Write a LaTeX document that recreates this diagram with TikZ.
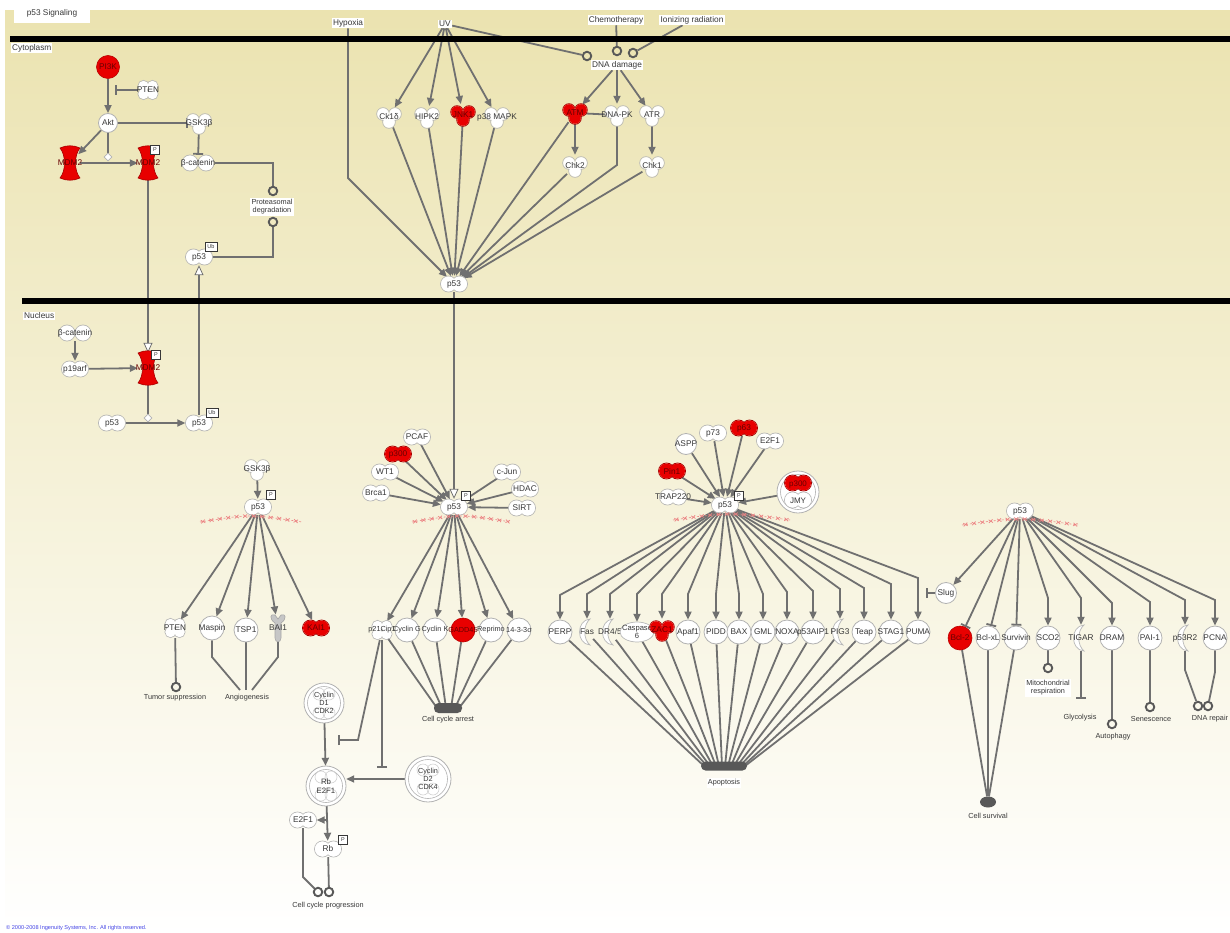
\documentclass[tikz,border=0pt]{standalone}
\usepackage{fontspec}
\setmainfont{Liberation Sans}
\setsansfont{Liberation Sans}
\usetikzlibrary{arrows.meta,shapes.geometric,decorations.markings,calc}

\definecolor{edgec}{RGB}{112,112,112}
\definecolor{blobc}{RGB}{88,88,88}
\definecolor{molred}{RGB}{232,0,0}
\definecolor{outl}{RGB}{178,178,178}
\definecolor{txt}{RGB}{55,55,55}
\definecolor{tantop}{RGB}{235,227,176}
\definecolor{tanmid}{RGB}{245,241,212}
\definecolor{xred}{RGB}{236,130,130}
\definecolor{copyc}{RGB}{70,70,230}

\pgfdeclarelayer{bglayer}
\pgfdeclarelayer{edgelayer}
\pgfsetlayers{bglayer,edgelayer,main}

% text that does not widen its node
\newcommand\zwtext[1]{\makebox[0pt]{#1}}
% molecule: shape kind, colour, node name, position, label
\newcommand\molec[5]{%
  \pic at (#4) {#1=#2};
  \node[#1 node,#2 text] (#3) at (#4) {\zwtext{#5}};}

\tikzset{
  lbl/.style={font=\fontsize{8.3}{9.3}\selectfont, text=txt, inner sep=0pt, align=center},
  tiny/.style={font=\fontsize{7.3}{8.2}\selectfont},
  proc/.style={lbl, fill=white, inner sep=1.2pt},
  white text/.style={},
  molred text/.style={text=molred!45!black},
  bowtie node/.style={lbl, ellipse, minimum width=27pt, minimum height=16pt},
  bowtiew node/.style={lbl, ellipse, minimum width=33pt, minimum height=16pt},
  trimer node/.style={lbl, circle, minimum size=22pt},
  quad node/.style={lbl, circle, minimum size=20pt},
  enzyme node/.style={lbl, ellipse, minimum width=20pt, minimum height=30pt},
  recep node/.style={lbl, ellipse, minimum width=14pt, minimum height=26pt},
  pept node/.style={lbl, ellipse, minimum width=34pt, minimum height=20pt},
  gpcr node/.style={lbl, ellipse, minimum width=14pt, minimum height=28pt},
  ocirc/.style={lbl, circle, draw=outl, fill=white, line width=0.8pt, minimum size=24pt},
  rcirc/.style={lbl, circle, draw=molred!80!black, fill=molred, line width=0.6pt,
                minimum size=24pt, text=molred!45!black},
  cplx/.style={lbl, tiny, circle, minimum size=40pt},
  pbox/.style={draw=txt, fill=white, line width=0.6pt, inner sep=0pt,
               minimum width=9pt, minimum height=9pt, font=\fontsize{5.5}{6}\selectfont, text=txt},
  ubox/.style={pbox, minimum width=12pt},
  phos/.style={diamond, draw=outl, fill=white, line width=0.7pt, inner sep=0pt, minimum size=8pt},
  endc/.style={circle, draw=blobc, line width=1.9pt, inner sep=0pt, minimum size=8.5pt},
  blob/.style={rectangle, rounded corners=4.5pt, fill=blobc, inner sep=0pt, minimum height=10pt},
  ln/.style={draw=edgec, line width=1.8pt},
  act/.style={ln, -{Triangle[length=8pt,width=7pt]}},
  inh/.style={ln, -{Bar[width=10pt]}},
  opent/.style={ln, -{Triangle[length=10pt,width=9pt,fill=white,line width=0.8pt]}},
  membrane/.style={draw=black, line width=5.5pt},
  xline/.style={draw=xred, line width=0.6pt, dash pattern=on 2pt off 2pt,
    postaction={decorate, decoration={markings,
      mark=between positions 0.03 and 1 step 8.5pt with
        {\draw[xred, line width=0.7pt, solid] (-2,-1.6) -- (2,1.6) (-2,1.6) -- (2,-1.6);}}}},
  % molecule outlines
  pics/bowtie/.style={code={
    \path[draw=#1!72!black, line width=0.8pt] (-5.5,0) circle[radius=8] (5.5,0) circle[radius=8];
    \path[fill=#1] (-5.5,0) circle[radius=7.5] (5.5,0) circle[radius=7.5];}},
  pics/bowtiew/.style={code={
    \path[draw=#1!72!black, line width=0.8pt] (-8,0) circle[radius=8] (8,0) circle[radius=8];
    \path[fill=#1] (-8,0) circle[radius=7.5] (8,0) circle[radius=7.5];}},
  pics/trimer/.style={code={
    \path[draw=#1!72!black, line width=0.8pt] (-6,-3) circle[radius=6.3] (6,-3) circle[radius=6.3] (0,5) circle[radius=6.3];
    \path[fill=#1] (-6,-3) circle[radius=5.8] (6,-3) circle[radius=5.8] (0,5) circle[radius=5.8];}},
  pics/quad/.style={code={
    \path[draw=#1!72!black, line width=0.8pt] (-4.5,-4) circle[radius=5.6] (4.5,-4) circle[radius=5.6]
      (-4.5,4) circle[radius=5.6] (4.5,4) circle[radius=5.6];
    \path[fill=#1] (-4.5,-4) circle[radius=5.1] (4.5,-4) circle[radius=5.1]
      (-4.5,4) circle[radius=5.1] (4.5,4) circle[radius=5.1];}},
  pics/enzyme/.style={code={
    \path[draw=#1!72!black, fill=#1, line width=0.6pt]
      (-10,-15) .. controls (-4,-8) and (-4,8) .. (-10,15)
      .. controls (-4,18) and (4,18) .. (10,15)
      .. controls (4,8) and (4,-8) .. (10,-15)
      .. controls (4,-18) and (-4,-18) .. (-10,-15) -- cycle;}},
  pics/recep/.style={code={
    \path[draw=#1!72!black, fill=#1, line width=0.7pt]
      (3,-13) .. controls (-11,-12) and (-11,12) .. (3,13)
      .. controls (-4,7) and (-4,-7) .. (3,-13) -- cycle;}},
  pics/pept/.style={code={
    \path[draw=#1!72!black, fill=#1, line width=0.7pt] (0,0) ellipse[x radius=17, y radius=10];}},
  pics/gpcr/.style={code={
    \path[draw=gray!70, fill=gray!45, line width=0.6pt]
      (-3,-5) .. controls (-9,-9) and (-8,-15) .. (-3,-13) -- (0,-9) -- (3,-13)
      .. controls (8,-15) and (9,-9) .. (3,-5) -- (3,10) .. controls (3,15) and (-3,15) .. (-3,10) -- cycle;}},
  pics/cplx/.style={code={
    \path[draw=outl, fill=white, line width=0.8pt] (0,0) circle[radius=#1];
    \path[draw=outl, line width=0.6pt] (0,0) circle[radius=#1-3.5];}},
  pics/ghost/.style={code={
    \path[draw=gray!35, line width=0.6pt] (-5,0) circle[radius=6] (5,0) circle[radius=6];}},
}

\begin{document}
\begin{tikzpicture}[x=1pt,y=-1pt]
\useasboundingbox (0,0) rectangle (1230,933);

% ---------- background ----------
\begin{pgfonlayer}{bglayer}
  \fill[white] (0,0) rectangle (1230,933);
  \shade[top color=tantop, middle color=tanmid, bottom color=white] (5,11) rectangle (1230,933);
\end{pgfonlayer}

% ---------- membranes and compartment names ----------
\draw[membrane] (10,39) -- (1230,39);
\draw[membrane] (22,301) -- (1230,301);
\node[lbl, fill=white, minimum width=76pt, minimum height=20pt] (title) at (52,13) {p53 Signaling};
\node[lbl, fill=white, inner sep=1pt, anchor=west] (cytol) at (11,48) {Cytoplasm};
\node[lbl, fill=white, inner sep=1pt, anchor=west] (nucl) at (23,316) {Nucleus};

% ---------- stress signals ----------
\node[proc] (hyp) at (348,23) {Hypoxia};
\node[proc] (uv) at (445,24) {UV};
\node[proc] (chemo) at (616,20) {Chemotherapy};
\node[proc] (ionr) at (692,20) {Ionizing radiation};
\node[proc] (dnad) at (617,65) {DNA damage};

\molec{trimer}{white}{ck1d}{389,117}{Ck1δ}
\molec{trimer}{white}{hipk2}{427,117}{HIPK2}
\molec{trimer}{molred}{jnk1}{463,115}{JNK1}
\molec{trimer}{white}{p38}{497,117}{p38 MAPK}
\molec{trimer}{molred}{atm}{575,113}{ATM}
\molec{trimer}{white}{dnapk}{617,115}{DNA-PK}
\molec{trimer}{white}{atr}{652,115}{ATR}
\molec{trimer}{white}{chk2}{575,166}{Chk2}
\molec{trimer}{white}{chk1}{652,166}{Chk1}
\molec{bowtie}{white}{p53t}{454,284}{p53}

\node[endc] (dd1) at (587,56) {};
\node[endc] (dd2) at (617,51) {};
\node[endc] (dd3) at (633,53) {};

% ---------- PI3K / Akt / MDM2 (cytoplasm) ----------
\node[rcirc, minimum size=23pt] (pi3k) at (108,67) {\zwtext{PI3K}};
\molec{quad}{white}{ptenc}{148,90}{PTEN}
\node[ocirc, minimum size=19pt] (akt) at (108,123) {\zwtext{Akt}};
\molec{trimer}{white}{gsk3c}{199,123}{GSK3β}
\molec{enzyme}{molred}{mdm2a}{70,163}{MDM2}
\molec{enzyme}{molred}{mdm2b}{148,163}{MDM2}
\node[pbox] (mdm2b-p) at (155,150) {P};
\molec{bowtiew}{white}{bcatc}{198,163}{β-catenin}
\node[phos] (dia1) at (108,157) {};
\node[endc] (pd1) at (273,191) {};
\node[endc] (pd2) at (273,222) {};
\node[proc, tiny] (pdlab) at (272,207) {Proteasomal\\degradation};
\molec{bowtie}{white}{p53u1}{199,257}{p53}
\node[ubox] (p53u1-ub) at (211,247) {Ub};
\coordinate (ptenbar) at (115,90);

% ---------- nucleus: MDM2 loop ----------
\molec{bowtiew}{white}{bcatn}{75,333}{β-catenin}
\molec{bowtie}{white}{p19}{75,369}{p19arf}
\molec{enzyme}{molred}{mdm2n}{148,368}{MDM2}
\node[pbox] (mdm2n-p) at (156,355) {P};
\node[phos] (dia2) at (148,418) {};
\molec{bowtie}{white}{p53n}{112,423}{p53}
\molec{bowtie}{white}{p53u2}{199,423}{p53}
\node[ubox] (p53u2-ub) at (212,413) {Ub};

% ---------- p53: tumour suppression / angiogenesis ----------
\molec{trimer}{white}{gsk3n}{257,469}{GSK3β}
\molec{bowtie}{white}{p53g}{258,507}{p53}
\node[pbox] (p53g-p) at (271,495) {P};
\molec{quad}{white}{ptenn}{175,628}{PTEN}
\node[ocirc] (maspin) at (212,628) {\zwtext{Maspin}};
\node[ocirc] (tsp1) at (246,630) {\zwtext{TSP1}};
\molec{gpcr}{white}{bai1}{278,628}{BAI1}
\molec{bowtie}{molred}{kai1}{316,628}{KAI1}
\node[endc] (tsc) at (176,687) {};
\node[lbl, tiny] (tsl) at (175,698) {Tumor suppression};
\coordinate (ang) at (246,690);
\node[lbl, tiny] (angl) at (247,698) {Angiogenesis};

% ---------- p53: cell cycle arrest ----------
\molec{bowtie}{white}{p53c}{454,507}{p53}
\node[pbox] (p53c-p) at (466,496) {P};
\molec{bowtie}{white}{pcaf}{417,437}{PCAF}
\molec{bowtie}{molred}{p300a}{398,454}{p300}
\molec{bowtie}{white}{wt1}{385,472}{WT1}
\molec{bowtie}{white}{brca1}{376,493}{Brca1}
\molec{bowtie}{white}{cjun}{507,472}{c-Jun}
\molec{bowtie}{white}{hdac}{525,489}{HDAC}
\molec{bowtie}{white}{sirt}{522,508}{SIRT}

\pic at (382,630) {quad=white};
\node[quad node, tiny] (p21) at (382,630) {\zwtext{p21Cip1}};
\node[ocirc, tiny] (cycg) at (407,630) {\zwtext{Cyclin G}};
\node[ocirc, tiny] (cyck) at (435,630) {\zwtext{Cyclin K}};
\node[rcirc, tiny] (gadd) at (463,630) {\zwtext{GADD45}};
\node[ocirc, tiny] (repr) at (491,630) {\zwtext{Reprimo}};
\node[ocirc, tiny] (sfn) at (519,630) {\zwtext{14-3-3σ}};
\node[blob, minimum width=28pt] (cca) at (448,708) {};
\node[lbl, tiny] (ccal) at (448,720) {Cell cycle arrest};

% ---------- Rb / E2F1 ----------
\pic at (324,703) {cplx=20};
\pic at (324,694) {ghost}; \pic at (324,713) {ghost};
\node[cplx] (cd1) at (324,703) {Cyclin\\D1\\CDK2};
\pic at (326,786) {cplx=20};
\pic at (326,777) {ghost}; \pic at (326,795) {ghost};
\node[cplx, font=\fontsize{7.8}{9.5}\selectfont] (rbe) at (326,786) {Rb\\E2F1};
\pic at (428,779) {cplx=23};
\pic at (428,770) {ghost}; \pic at (428,789) {ghost};
\node[cplx, minimum size=46pt] (cd2) at (428,779) {Cyclin\\D2\\CDK4};
\coordinate (inhA) at (338,740);
\coordinate (inhB) at (382,768);
\molec{bowtie}{white}{e2f1b}{303,820}{E2F1}
\molec{bowtie}{white}{rb2}{328,849}{Rb}
\node[pbox] (rb2-p) at (343,840) {P};
\coordinate (split) at (rbe.south |- e2f1b);
\node[endc] (ccp1) at (318,892) {};
\node[endc] (ccp2) at (329,892) {};
\node[lbl, tiny] (ccpl) at (328,906) {Cell cycle progression};

% ---------- p53: apoptosis ----------
\molec{bowtie}{white}{p53a}{725,505}{p53}
\node[pbox] (p53a-p) at (739,496) {P};
\node[ocirc, minimum size=21pt] (aspp) at (686,444) {\zwtext{ASPP}};
\molec{bowtie}{white}{p73}{713,433}{p73}
\molec{bowtie}{molred}{p63}{744,428}{p63}
\molec{bowtie}{white}{e2f1a}{770,441}{E2F1}
\molec{bowtie}{molred}{pin1}{672,471}{Pin1}
\molec{bowtie}{white}{trap}{673,497}{TRAP220}
\pic at (798,492) {cplx=21};
\pic at (798,483) {bowtie=molred};
\pic at (798,500) {bowtie=white};
\node[lbl, circle, minimum size=42pt, align=center, font=\fontsize{8}{17}\selectfont] (jmy)
  at (798,492) {\textcolor{molred!45!black}{p300}\\JMY};

\node[ocirc] (perp) at (560,632) {\zwtext{PERP}};
\molec{recep}{white}{fas}{587,632}{Fas}
\molec{recep}{white}{dr45}{610,632}{DR4/5}
\pic at (637,632) {pept=white};
\node[pept node, font=\fontsize{7.6}{8}\selectfont] (casp6) at (637,632) {\zwtext{Caspase}\\6};
\molec{trimer}{molred}{zac1}{662,630}{ZAC1}
\node[ocirc] (apaf1) at (688,632) {\zwtext{Apaf1}};
\node[ocirc] (pidd) at (716,632) {\zwtext{PIDD}};
\node[ocirc] (bax) at (739,632) {\zwtext{BAX}};
\node[ocirc] (gml) at (763,632) {\zwtext{GML}};
\node[ocirc] (noxa) at (787,632) {\zwtext{NOXA}};
\node[ocirc] (aip1) at (813,632) {\zwtext{p53AIP1}};
\molec{recep}{white}{pig3}{840,632}{PIG3}
\node[ocirc] (teap) at (864,632) {\zwtext{Teap}};
\node[ocirc] (stag1) at (891,632) {\zwtext{STAG1}};
\node[ocirc] (puma) at (918,632) {\zwtext{PUMA}};
\node[blob, minimum width=46pt, minimum height=9pt] (apo) at (724,766) {};
\node[proc, tiny] (apol) at (724,783) {Apoptosis};

% ---------- p53: survival, metabolism, repair ----------
\molec{bowtie}{white}{p53r}{1020,511}{p53}
\node[ocirc, minimum size=21pt] (slug) at (946,593) {\zwtext{Slug}};
\coordinate (slugbar) at (926,593);
\node[rcirc] (bcl2) at (960,638) {\zwtext{Bcl-2}};
\node[ocirc] (bclxl) at (988,638) {\zwtext{Bcl-xL}};
\node[ocirc] (surv) at (1016,638) {\zwtext{Survivin}};
\node[ocirc] (sco2) at (1048,638) {\zwtext{SCO2}};
\molec{recep}{white}{tigar}{1081,638}{TIGAR}
\node[ocirc] (dram) at (1112,638) {\zwtext{DRAM}};
\node[ocirc] (pai1) at (1150,638) {\zwtext{PAI-1}};
\molec{recep}{white}{p53r2}{1185,638}{p53R2}
\node[ocirc] (pcna) at (1215,638) {\zwtext{PCNA}};

\node[endc] (mitc) at (1048,668) {};
\node[proc, tiny] (mitl) at (1048,688) {Mitochondrial\\respiration};
\coordinate (glyc) at (1081,699);
\node[lbl, tiny] (glycl) at (1080,718) {Glycolysis};
\node[endc] (autc) at (1112,724) {};
\node[lbl, tiny] (autl) at (1113,737) {Autophagy};
\node[endc] (senc) at (1150,707) {};
\node[lbl, tiny] (senl) at (1151,719) {Senescence};
\node[endc] (dnr1) at (1198,706) {};
\node[endc] (dnr2) at (1208,706) {};
\node[lbl, tiny] (dnrl) at (1210,719) {DNA repair};
\node[ellipse, fill=blobc, inner sep=0pt, minimum width=16pt, minimum height=11pt] (csv) at (988,802) {};
\node[lbl, tiny] (csvl) at (988,816) {Cell survival};

% ---------- footer ----------
\node[anchor=west, inner sep=0pt, text=copyc, font=\fontsize{5.6}{6}\selectfont] (copy) at (6,928)
  {© 2000-2008 Ingenuity Systems, Inc. All rights reserved.};

% ---------- p53 damage-sensing marks ----------
\draw[xline] (200,522) .. controls (250,514) .. (302,522);
\draw[xline] (412,522) .. controls (460,514) .. (511,522);
\draw[xline] (673,520) .. controls (730,512) .. (790,520);
\draw[xline] (962,525) .. controls (1020,517) .. (1078,525);

% ================= connectors =================
\begin{pgfonlayer}{edgelayer}
  % stress signals to p53
  \draw[act] (hyp) -- (348,178) -- (p53t);
  \foreach \k in {ck1d,hipk2,jnk1,p38} \draw[act] (uv) -- (\k);
  \draw[ln] (uv) -- (dd1);
  \draw[ln] (chemo) -- (dd2);
  \draw[ln] (ionr) -- (dd3);
  \foreach \k in {atm,dnapk,atr} \draw[act] (dnad) -- (\k);
  \draw[ln] (atm) -- (dnapk);
  \draw[act] (atm) -- (chk2);
  \draw[act] (atr) -- (chk1);
  \foreach \k in {ck1d,hipk2,jnk1,p38,atm,chk2,chk1} \draw[act] (\k) -- (p53t);
  \draw[act] (dnapk) -- (617,165) -- (p53t);
  \draw[opent] (p53t) -- (p53c);

  % PI3K / Akt / MDM2
  \draw[act] (pi3k) -- (akt);
  \draw[inh] (ptenc) -- (ptenbar);
  \draw[inh] (akt) -- (gsk3c);
  \draw[inh] (gsk3c) -- (bcatc);
  \draw[act] (akt) -- (mdm2a);
  \draw[ln] (akt) -- (dia1);
  \draw[act] (mdm2a) -- (mdm2b);
  \draw[opent] (mdm2b) -- (mdm2n);
  \draw[ln] (bcatc) -| (pd1);
  \draw[ln] (p53u1) -| (pd2);
  \draw[opent] (p53u2) -- (p53u1);
  \draw[act] (bcatn) -- (p19);
  \draw[act] (p19) -- (mdm2n);
  \draw[ln] (mdm2n) -- (dia2);
  \draw[act] (p53n) -- (p53u2);

  % tumour suppression / angiogenesis
  \draw[act] (gsk3n) -- (p53g);
  \foreach \k in {ptenn,maspin,tsp1,bai1,kai1} \draw[act] (p53g) -- (\k);
  \draw[ln] (ptenn) -- (tsc);
  \draw[ln] (maspin) -- (212,657) -- ([xshift=-6pt]ang);
  \draw[ln] (tsp1) -- (ang);
  \draw[ln] (bai1) -- (278,657) -- ([xshift=6pt]ang);

  % cell cycle arrest
  \foreach \k in {pcaf,p300a,wt1,brca1,cjun,hdac,sirt} \draw[act] (\k) -- (p53c);
  \foreach \k in {p21,cycg,cyck,gadd,repr,sfn} \draw[act] (p53c) -- (\k);
  \draw[ln] (p21) -- ([xshift=-11pt]cca.center);
  \draw[ln] (cycg) -- ([xshift=-6pt]cca.center);
  \draw[ln] (cyck) -- ([xshift=-2pt]cca.center);
  \draw[ln] (gadd) -- ([xshift=3pt]cca.center);
  \draw[ln] (repr) -- ([xshift=7pt]cca.center);
  \draw[ln] (sfn) -- ([xshift=11pt]cca.center);
  \draw[inh] (p21) -- (358,740) -- (inhA);
  \draw[inh] (p21) -- (inhB);

  % Rb / E2F1
  \draw[act] (cd1) -- (rbe);
  \draw[act] (cd2.west) -- (rbe.east |- cd2.west);
  \draw[act] (rbe) -- (rb2);
  \draw[act] (split) -- (e2f1b);
  \draw[ln] (e2f1b) -- (303,877) -- (ccp1);
  \draw[ln] (rb2) -- (ccp2);

  % apoptosis
  \foreach \k in {aspp,p73,p63,e2f1a,pin1,trap,jmy} \draw[act] (\k) -- (p53a);
  \draw[act] (p53a) -- (560,595) -- (perp);
  \draw[act] (p53a) -- (587,594) -- (fas);
  \draw[act] (p53a) -- (610,594) -- (dr45);
  \draw[act] (p53a) -- (637,594) -- (casp6);
  \draw[act] (p53a) -- (662,594) -- (zac1);
  \draw[act] (p53a) -- (688,594) -- (apaf1);
  \draw[act] (p53a) -- (716,594) -- (pidd);
  \draw[act] (p53a) -- (739,594) -- (bax);
  \draw[act] (p53a) -- (763,594) -- (gml);
  \draw[act] (p53a) -- (787,592) -- (noxa);
  \draw[act] (p53a) -- (813,591) -- (aip1);
  \draw[act] (p53a) -- (840,589) -- (pig3);
  \draw[act] (p53a) -- (864,588) -- (teap);
  \draw[act] (p53a) -- (891,584) -- (stag1);
  \draw[act] (p53a) -- (918,578) -- (puma);
  \draw[ln] (perp) -- ([xshift=-20pt]apo.center);
  \draw[ln] (fas) -- ([xshift=-17pt]apo.center);
  \draw[ln] (dr45) -- ([xshift=-14pt]apo.center);
  \draw[ln] (casp6) -- ([xshift=-11pt]apo.center);
  \draw[ln] (zac1) -- ([xshift=-8pt]apo.center);
  \draw[ln] (apaf1) -- ([xshift=-5pt]apo.center);
  \draw[ln] (pidd) -- ([xshift=-2pt]apo.center);
  \draw[ln] (bax) -- ([xshift=1pt]apo.center);
  \draw[ln] (gml) -- ([xshift=4pt]apo.center);
  \draw[ln] (noxa) -- ([xshift=7pt]apo.center);
  \draw[ln] (aip1) -- ([xshift=10pt]apo.center);
  \draw[ln] (pig3) -- ([xshift=13pt]apo.center);
  \draw[ln] (teap) -- ([xshift=16pt]apo.center);
  \draw[ln] (stag1) -- ([xshift=19pt]apo.center);
  \draw[ln] (puma) -- ([xshift=21pt]apo.center);

  % survival, metabolism, repair
  \draw[act] (p53r) -- (slug);
  \draw[inh] (slug) -- (slugbar);
  \foreach \k in {bcl2,bclxl,surv} \draw[inh] (p53r) -- (\k);
  \draw[act] (p53r) -- (1048,598) -- (sco2);
  \draw[act] (p53r) -- (1081,598) -- (tigar);
  \draw[act] (p53r) -- (1112,603) -- (dram);
  \draw[act] (p53r) -- (1150,602) -- (pai1);
  \draw[act] (p53r) -- (1185,600) -- (p53r2);
  \draw[act] (p53r) -- (1215,600) -- (pcna);
  \draw[ln] (sco2) -- (mitc);
  \draw[inh] (tigar) -- (glyc);
  \draw[ln] (dram) -- (autc);
  \draw[ln] (pai1) -- (senc);
  \draw[ln] (p53r2) -- (1185,670) -- (dnr1);
  \draw[ln] (pcna) -- (1215,672) -- (dnr2);
  \foreach \k in {bcl2,bclxl,surv} \draw[ln] (\k) -- (csv);
\end{pgfonlayer}
\end{tikzpicture}
\end{document}
